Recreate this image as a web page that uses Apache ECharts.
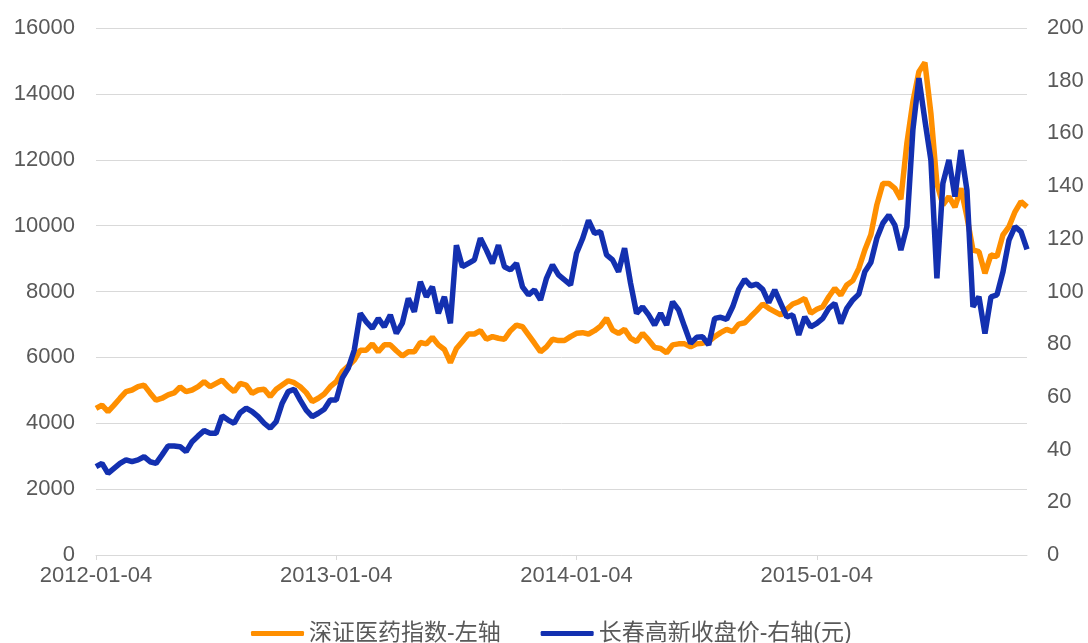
<!DOCTYPE html>
<html>
<head>
<meta charset="utf-8">
<script src="https://cdn.jsdelivr.net/npm/echarts@6/dist/echarts.min.js"></script>
<style>
  html, body { margin: 0; padding: 0; background: #fff; }
  #main { width: 1088px; height: 643px; }
</style>
</head>
<body>
<div id="main"></div>
<script>
// 深证医药指数 vs 长春高新收盘价，约每 6 个交易日取一个点（每年 40 个点）
const tickDates = ['2012-01-04', '2013-01-04', '2014-01-04', '2015-01-04']
const tickStep = 40

// 深证医药指数（左轴）
const szyy = [
  4450, 4550, 4350, 4550, 4760, 4960, 5010, 5110, 5160, 4920,
  4700, 4760, 4860, 4920, 5100, 4960, 5010, 5110, 5260, 5110,
  5210, 5310, 5110, 4960, 5210, 5160, 4910, 5010, 5030, 4810,
  5030, 5160, 5290, 5230, 5110, 4930, 4660, 4760, 4890, 5110,
  5260, 5570, 5740, 5920, 6220, 6220, 6410, 6170, 6380, 6380,
  6200, 6040, 6170, 6170, 6450, 6410, 6610, 6380, 6240, 5840,
  6270, 6480, 6710, 6710, 6810, 6550, 6630, 6580, 6550, 6810,
  6980, 6930, 6680, 6430, 6170, 6320, 6550, 6510, 6510, 6630,
  6730, 6750, 6710, 6810, 6950, 7190, 6830, 6730, 6850, 6580,
  6480, 6730, 6530, 6300, 6270, 6140, 6380, 6410, 6410, 6320,
  6410, 6430, 6480, 6630, 6750, 6850, 6780, 7010, 7050, 7240,
  7420, 7620, 7490, 7390, 7290, 7460, 7620, 7690, 7790, 7340,
  7460, 7540, 7840, 8100, 7890, 8200, 8330, 8700, 9260, 9720,
  10630, 11280, 11280, 11130, 10800, 12500, 13760, 14670, 14950, 13410,
  11280, 10630, 10880, 10560, 11130, 10270, 9260, 9210, 8550, 9110,
  9060, 9720, 9970, 10420, 10730, 10570
]

// 长春高新收盘价（右轴，元）
const cchx = [
  33.5, 34.8, 31.0, 32.9, 34.8, 36.1, 35.4, 36.1, 37.3, 35.4,
  34.8, 38.0, 41.4, 41.4, 41.1, 39.2, 43.0, 45.2, 47.2, 46.2,
  46.2, 52.8, 51.2, 50.0, 54.0, 55.7, 54.4, 52.5, 50.0, 48.1,
  50.6, 57.6, 62.0, 62.9, 58.8, 55.0, 52.5, 53.8, 55.3, 58.8,
  58.8, 67.1, 70.9, 77.8, 91.7, 88.5, 86.0, 89.8, 86.6, 91.1,
  84.1, 88.0, 97.4, 92.3, 103.7, 98.0, 101.8, 91.7, 98.0, 87.9,
  117.6, 109.4, 110.7, 112.0, 120.2, 115.7, 110.7, 117.6, 109.4, 108.2,
  110.7, 101.8, 98.7, 100.6, 96.8, 105.0, 110.1, 106.3, 104.4, 102.5,
  114.5, 120.0, 127.0, 122.1, 122.7, 113.9, 112.0, 107.5, 116.4, 103.1,
  91.7, 94.2, 91.1, 87.3, 91.7, 87.3, 96.1, 93.0, 86.6, 80.3,
  82.6, 82.8, 79.7, 89.8, 90.2, 89.4, 94.2, 100.8, 104.6, 102.1,
  102.8, 100.8, 95.8, 100.6, 95.5, 90.4, 91.1, 83.5, 90.4, 86.6,
  87.9, 89.8, 93.6, 95.5, 87.9, 93.6, 96.8, 99.0, 107.5, 111.0,
  120.2, 125.9, 129.0, 125.2, 115.7, 124.6, 161.3, 181.0, 165.0, 149.9,
  105.0, 141.1, 149.9, 136.0, 153.7, 138.5, 94.2, 98.0, 84.0, 98.0,
  98.7, 107.5, 119.5, 124.6, 122.7, 116.0
]

const categories = szyy.map((v, i) => String(i))
const isTick = (idx) => idx % tickStep === 0

const chart = echarts.init(document.getElementById('main'), null, { renderer: 'canvas' })
chart.setOption(getOption())

function getOption() {
  const font = '"Liberation Sans", Arial, "Noto Sans CJK SC", sans-serif'
  return {
    animation: false,
    textStyle: { fontFamily: font },
    grid: { left: 96, right: 61, top: 28, bottom: 88, containLabel: false },
    legend: {
      left: 246,
      top: 617,
      icon: 'roundRect',
      itemWidth: 53,
      itemHeight: 5,
      itemGap: 40,
      textStyle: { fontSize: 23, color: '#595959', fontFamily: font },
      data: ['深证医药指数-左轴', '长春高新收盘价-右轴(元)']
    },
    xAxis: {
      type: 'category',
      boundaryGap: false,
      data: categories,
      axisLine: { lineStyle: { color: '#d9d9d9', width: 1 } },
      axisTick: { show: true, interval: isTick, length: 5, lineStyle: { color: '#d9d9d9' } },
      axisLabel: {
        interval: isTick,
        formatter: (v, idx) => tickDates[idx / tickStep] || '',
        fontSize: 22,
        color: '#595959',
        margin: 10
      },
      splitLine: { show: false }
    },
    yAxis: [
      {
        type: 'value',
        min: 0,
        max: 16000,
        interval: 2000,
        axisLine: { show: false },
        axisTick: { show: false },
        axisLabel: { fontSize: 22, color: '#595959', margin: 21, formatter: (v) => String(v) },
        splitLine: { lineStyle: { color: '#d9d9d9', width: 1 } }
      },
      {
        type: 'value',
        min: 0,
        max: 200,
        interval: 20,
        position: 'right',
        axisLine: { show: false },
        axisTick: { show: false },
        axisLabel: { fontSize: 22, color: '#595959', margin: 20, formatter: (v) => String(v) },
        splitLine: { show: false }
      }
    ],
    series: [
      {
        name: '深证医药指数-左轴',
        type: 'line',
        yAxisIndex: 0,
        data: szyy,
        symbol: 'none',
        color: '#ff8f00',
        lineStyle: { width: 5.5, color: '#ff8f00' }
      },
      {
        name: '长春高新收盘价-右轴(元)',
        type: 'line',
        yAxisIndex: 1,
        data: cchx,
        symbol: 'none',
        color: '#1330b0',
        lineStyle: { width: 5.5, color: '#1330b0' }
      }
    ]
  }
}
</script>
</body>
</html>
